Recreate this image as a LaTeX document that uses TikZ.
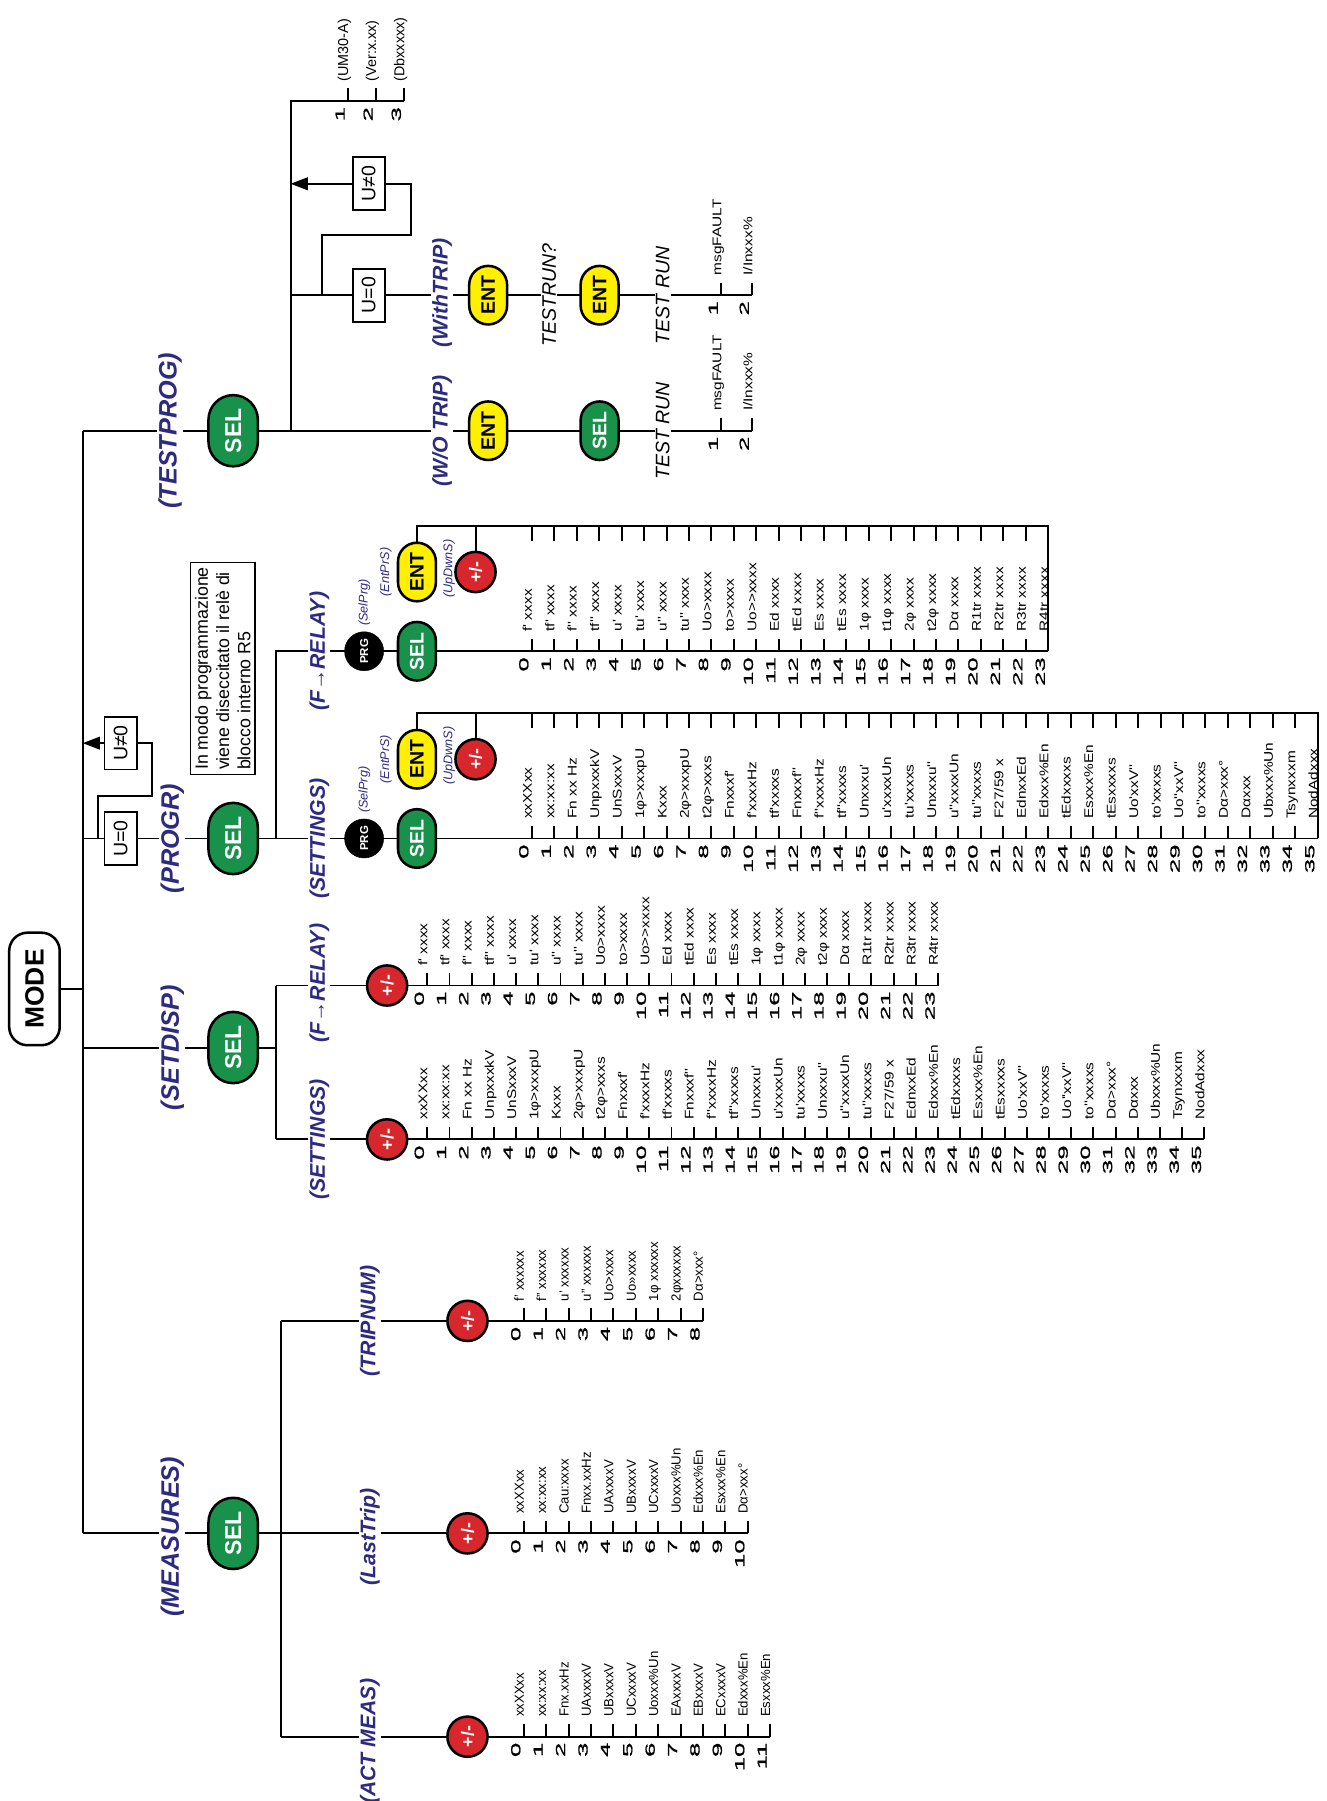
\documentclass[tikz,border=0pt]{standalone}
\usepackage{fontspec}
\setmainfont{Liberation Sans}
\newfontfamily\numfont[FakeStretch=1.95,FakeBold=1.2]{Liberation Sans}
\newfontfamily\listfont[FakeStretch=1.22]{Liberation Sans}
\usetikzlibrary{arrows.meta,shapes.misc}
\definecolor{navy}{HTML}{2D2B7F}
\definecolor{selgreen}{HTML}{18924A}
\definecolor{entyellow}{HTML}{FFF000}
\definecolor{pmred}{HTML}{D7262C}
\pgfdeclarelayer{bg}
\pgfsetlayers{bg,main}
\tikzset{
  ln/.style={line width=1.7pt},
  arr/.style={line width=1.7pt,-{Triangle[length=15pt,width=11pt]}},
  modebox/.style={rectangle,rounded corners=16pt,rotate=90,draw,line width=2.2pt,fill=white,
    font=\fontsize{23}{23}\selectfont\bfseries,minimum width=98,minimum height=44,inner sep=0pt},
  bigsel/.style={rounded rectangle,rotate=90,draw,line width=2.2pt,fill=selgreen,text=white,
    font=\fontsize{20}{20}\selectfont\bfseries,minimum width=62,minimum height=43,inner sep=0pt},
  smallsel/.style={bigsel,minimum width=51,minimum height=33,font=\fontsize{17}{17}\selectfont\bfseries},
  ent/.style={smallsel,fill=entyellow,text=black},
  pm/.style={circle,rotate=90,draw,line width=2.2pt,fill=pmred,text=white,
    font=\fontsize{15.5}{15.5}\selectfont\bfseries,minimum size=35,inner sep=0pt},
  prg/.style={circle,rotate=90,draw,fill=black,text=white,
    font=\fontsize{10}{10}\selectfont\bfseries,minimum size=34,inner sep=0pt},
  ubox/.style={rectangle,rotate=90,draw,line width=1.6pt,fill=white,
    font=\fontsize{17}{17}\selectfont,minimum width=46,minimum height=28,inner sep=0pt},
  mainlbl/.style={rotate=90,fill=white,text=navy,font=\fontsize{22}{22}\selectfont\bfseries\itshape,
    inner xsep=6pt,inner ysep=1pt},
  sublbl/.style={mainlbl,font=\fontsize{18.5}{18.5}\selectfont\bfseries\itshape},
  hint/.style={rotate=90,text=navy,font=\fontsize{11}{11}\selectfont\itshape,inner sep=0pt},
  runlbl/.style={rotate=90,fill=white,font=\fontsize{17}{17}\selectfont\itshape,inner xsep=6pt,inner ysep=1pt},
  itxt/.style={rotate=90,font=\listfont\fontsize{11}{12}\selectfont,inner sep=0pt},
  mtxt/.style={rotate=90,font=\fontsize{11.5}{12}\selectfont,inner sep=0pt},
  stxt/.style={rotate=90,font=\fontsize{12.5}{12.5}\selectfont,inner sep=0pt},
  numtxt/.style={rotate=90,font=\numfont\fontsize{11.5}{11.5}\selectfont,inner sep=0pt},
  notebox/.style={rectangle,rotate=90,draw,line width=1.4pt,fill=white,align=left,
    font=\fontsize{15.5}{18.5}\selectfont,inner sep=4pt},
}
% #1 prefix, #2 x of first tick, #3 rail y, #4 step, #5 text style, #6 items, #7 first number
\newcommand\mkitems[7]{%
  \foreach \itm [count=\nn from #7] in {#6} {%
    \coordinate (#1c\nn) at ({#2+(\nn-#7)*#4},#3);
    \node[#5,anchor=base west] (#1t\nn) at ({#2+(\nn-#7)*#4},{#3-17}) {\itm};
    \node[numtxt,anchor=base east] (#1n\nn) at ({#2+(\nn-#7)*#4-3},{#3+5}) {\nn};
  }%
}
\newcommand\mkticks[3]{\foreach \nn in {#2,...,#3} {\draw[ln] (#1c\nn) -- ++(0,-11);}}
% #1 prefix, #2 x0, #3 top y, #4 step, #5 last, #6 ENT node
\newcommand\mktop[6]{%
  \foreach \nn in {0,...,#5} {\coordinate (#1u\nn) at ({#2+\nn*#4},#3); \draw[ln] (#1u\nn) -- ++(0,13);}%
  \draw[ln] (#6.center) |- (#1u#5) -- (#1c#5);
}
\begin{document}
\begin{tikzpicture}[x=1pt,y=-1pt]
\useasboundingbox (0,0) rectangle (1155.3,1568);
% ---------- trunk ----------
\node[modebox] (mode) at (30,861) {MODE};
\coordinate (tTop) at (72,375);
\coordinate (tBot) at (72,1335);
% ---------- TESTPROG ----------
\node[mainlbl] (lTP) at (148,375) {(TESTPROG)};
\node[bigsel] (selTP) at (203,375) {SEL};
\coordinate (brTP) at (253,375);
\coordinate (brTPtop) at (253,88);
\coordinate (brTPu) at (253,257);
\node[ubox] (u0TP) at (321,257) {U=0};
\node[ubox] (u1TP) at (321,160) {U≠0};
\coordinate (sp1) at (280,257);
\coordinate (sp2) at (358,205);
\mkitems{inf}{303}{88}{24.5}{stxt}{(UM30-A),(Ver:x.xx),(Dbxxxxx)}{1}
\node[sublbl] (lWO) at (385,375) {(W/O TRIP)};
\node[ent] (entWO) at (425,375) {ENT};
\node[smallsel] (selWO) at (522,375) {SEL};
\node[runlbl] (trWO) at (577,375) {TEST RUN};
\mkitems{wo}{628}{375}{27}{itxt}{msgFAULT,I/Inxxx\%}{1}
\node[sublbl] (lWT) at (385,255) {(WithTRIP)};
\node[ent] (ent1WT) at (425,257) {ENT};
\node[runlbl] (trqWT) at (478,257) {TESTRUN?};
\node[ent] (ent2WT) at (522,257) {ENT};
\node[runlbl] (trWT) at (577,257) {TEST RUN};
\mkitems{wt}{628}{257}{27}{itxt}{msgFAULT,I/Inxxx\%}{1}
% ---------- PROGR ----------
\node[ubox] (u0PR) at (105,730) {U=0};
\node[ubox] (u1PR) at (105,647) {U≠0};
\coordinate (sp3) at (85,730);
\coordinate (sp4) at (132,693);
\node[mainlbl] (lPR) at (150,730) {(PROGR)};
\node[bigsel] (selPR) at (203,730) {SEL};
\node[notebox] (note) at (194,582) {In modo programmazione\\viene diseccitato il relè di\\blocco interno R5};
\coordinate (brPR) at (240,730);
\coordinate (brPRtop) at (240,567);
% F->RELAY (PROGR)
\node[sublbl] (lPF) at (278,567) {(F→RELAY)};
\node[prg] (prgPF) at (317,567) {PRG};
\node[hint,anchor=base west] (hPF1) at (320,545) {(SelPrg)};
\node[smallsel] (selPF) at (363,567) {SEL};
\node[ent] (entPF) at (363,498) {ENT};
\node[hint] (hPF2) at (336,498) {(EntPrS)};
\node[hint] (hPF3) at (391,495) {(UpDwnS)};
\node[pm] (pmPF) at (414,498) {+/-};
\mkitems{pf}{463}{567}{19.55}{itxt}{f' xxxx,tf' xxxx,f'' xxxx,tf'' xxxx,u' xxxx,tu' xxxx,u'' xxxx,tu'' xxxx,Uo>xxxx,to>xxxx,Uo>>xxxx,Ed xxxx,tEd xxxx,Es xxxx,tEs xxxx,1φ xxxx,t1φ xxxx,2φ xxxx,t2φ xxxx,Dα xxxx,R1tr xxxx,R2tr xxxx,R3tr xxxx,R4tr xxxx}{0}
% SETTINGS (PROGR)
\node[sublbl] (lPS) at (278,730) {(SETTINGS)};
\node[prg] (prgPS) at (317,730) {PRG};
\node[hint,anchor=base west] (hPS1) at (320,708) {(SelPrg)};
\node[smallsel] (selPS) at (363,730) {SEL};
\node[ent] (entPS) at (363,661) {ENT};
\node[hint] (hPS2) at (336,661) {(EntPrS)};
\node[hint] (hPS3) at (391,658) {(UpDwnS)};
\node[pm] (pmPS) at (414,661) {+/-};
\mkitems{ps}{463}{730}{19.55}{itxt}{xxXXxx,xx:xx:xx,Fn xx Hz,UnpxxxkV,UnSxxxV,1φ>xxxpU,Kxxx,2φ>xxxpU,t2φ>xxxs,Fnxxxf',f'xxxxHz,tf'xxxxs,Fnxxxf'',f''xxxxHz,tf''xxxxs,Unxxxu',u'xxxxUn,tu'xxxxs,Unxxxu'',u''xxxxUn,tu''xxxxs,F27/59 x,EdnxxEd,Edxxx\%En,tEdxxxxs,Esxxx\%En,tEsxxxxs,Uo'xxV'',to'xxxxs,Uo''xxV'',to''xxxxs,Dα>xxx°,Dαxxx,Ubxxx\%Un,Tsynxxxm,NodAdxxx}{0}
% ---------- SETDISP ----------
\node[mainlbl] (lSD) at (150,912) {(SETDISP)};
\node[bigsel] (selSD) at (203,912) {SEL};
\coordinate (brSD) at (240,912);
\node[sublbl] (lSF) at (278,856) {(F→RELAY)};
\node[pm] (pmSF) at (337,858) {+/-};
\mkitems{sf}{372}{858}{19.33}{itxt}{f' xxxx,tf' xxxx,f'' xxxx,tf'' xxxx,u' xxxx,tu' xxxx,u'' xxxx,tu'' xxxx,Uo>xxxx,to>xxxx,Uo>>xxxx,Ed xxxx,tEd xxxx,Es xxxx,tEs xxxx,1φ xxxx,t1φ xxxx,2φ xxxx,t2φ xxxx,Dα xxxx,R1tr xxxx,R2tr xxxx,R3tr xxxx,R4tr xxxx}{0}
\node[sublbl] (lSS) at (278,992) {(SETTINGS)};
\node[pm] (pmSS) at (337,992) {+/-};
\mkitems{ss}{372}{992}{19.33}{itxt}{xxXXxx,xx:xx:xx,Fn xx Hz,UnpxxxkV,UnSxxxV,1φ>xxxpU,Kxxx,2φ>xxxpU,t2φ>xxxs,Fnxxxf',f'xxxxHz,tf'xxxxs,Fnxxxf'',f''xxxxHz,tf''xxxxs,Unxxxu',u'xxxxUn,tu'xxxxs,Unxxxu'',u''xxxxUn,tu''xxxxs,F27/59 x,EdnxxEd,Edxxx\%En,tEdxxxxs,Esxxx\%En,tEsxxxxs,Uo'xxV'',to'xxxxs,Uo''xxV'',to''xxxxs,Dα>xxx°,Dαxxx,Ubxxx\%Un,Tsynxxxm,NodAdxxx}{0}
% ---------- MEASURES ----------
\node[mainlbl] (lME) at (150,1338) {(MEASURES)};
\node[bigsel] (selME) at (203,1335) {SEL};
\coordinate (brME) at (245,1335);
\node[sublbl] (lMT) at (322,1150) {(TRIPNUM)};
\node[pm] (pmMT) at (407,1150) {+/-};
\mkitems{mt}{456}{1150}{19.5}{mtxt}{f' xxxxxx,f'' xxxxxx,u' xxxxxx,u'' xxxxxx,Uo>xxxx,Uo>>xxxx,1φ xxxxxx,2φxxxxxx,Dα>xxx°}{0}
\node[sublbl] (lML) at (322,1338) {(LastTrip)};
\node[pm] (pmML) at (407,1335) {+/-};
\mkitems{ml}{456}{1335}{19.5}{mtxt}{xxXXxx,xx:xx:xx,Cau:xxxx,Fnxx.xxHz,UAxxxxV,UBxxxxV,UCxxxxV,Uoxxx\%Un,Edxxx\%En,Esxxx\%En,Dα>xxx°}{0}
\node[sublbl] (lMA) at (322,1516) {(ACT MEAS)};
\node[pm] (pmMA) at (407,1512) {+/-};
\mkitems{ma}{456}{1512}{19.5}{mtxt}{xxXXxx,xx:xx:xx,Fnx.xxHz,UAxxxxV,UBxxxxV,UCxxxxV,Uoxxx\%Un,EAxxxxV,EBxxxxV,ECxxxxV,Edxxx\%En,Esxxx\%En}{0}
% ---------- connectors ----------
\begin{pgfonlayer}{bg}
\draw[ln] (mode.center) -- (mode.center -| tTop);
\draw[ln] (tTop) -- (tBot);
% TESTPROG
\draw[ln] (tTop) -- (brTP) -- (brTPtop) -- (infc3);
\mkticks{inf}{1}{3}
\draw[ln] (brTP) -- (woc2);
\mkticks{wo}{1}{2}
\draw[ln] (brTPu) -- (wtc2);
\mkticks{wt}{1}{2}
\draw[ln] (sp1) |- (sp2) |- (u1TP.center);
\draw[arr] (u1TP.center) -- (u1TP.center -| brTP);
% PROGR
\draw[ln] (tTop |- selPR) -- (brPR) -- (brPRtop) -- (pfc23);
\draw[ln] (brPR) -- (psc35);
\draw[ln] (sp3) |- (sp4) |- (u1PR.center);
\draw[arr] (u1PR.center) -- (u1PR.center -| tTop);
\mkticks{pf}{0}{23}
\mkticks{ps}{0}{35}
\mktop{pf}{463}{458}{19.55}{23}{entPF}
\mktop{ps}{463}{621}{19.55}{35}{entPS}
\draw[ln] (pmPF.center) -- (pmPF.center |- pfu0);
\draw[ln] (pmPS.center) -- (pmPS.center |- psu0);
% SETDISP
\draw[ln] (tTop |- selSD) -- (brSD);
\draw[ln] (brSD |- pmSF) -- (brSD |- pmSS);
\draw[ln] (brSD |- pmSF) -- (sfc23);
\draw[ln] (brSD |- pmSS) -- (ssc35);
\mkticks{sf}{0}{23}
\mkticks{ss}{0}{35}
% MEASURES
\draw[ln] (tBot) -- (brME);
\draw[ln] (brME |- pmMT) -- (brME |- pmMA);
\draw[ln] (brME |- pmMT) -- (mtc8);
\draw[ln] (brME) -- (mlc10);
\draw[ln] (brME |- pmMA) -- (mac11);
\mkticks{mt}{0}{8}
\mkticks{ml}{0}{10}
\mkticks{ma}{0}{11}
\end{pgfonlayer}
\end{tikzpicture}
\end{document}
